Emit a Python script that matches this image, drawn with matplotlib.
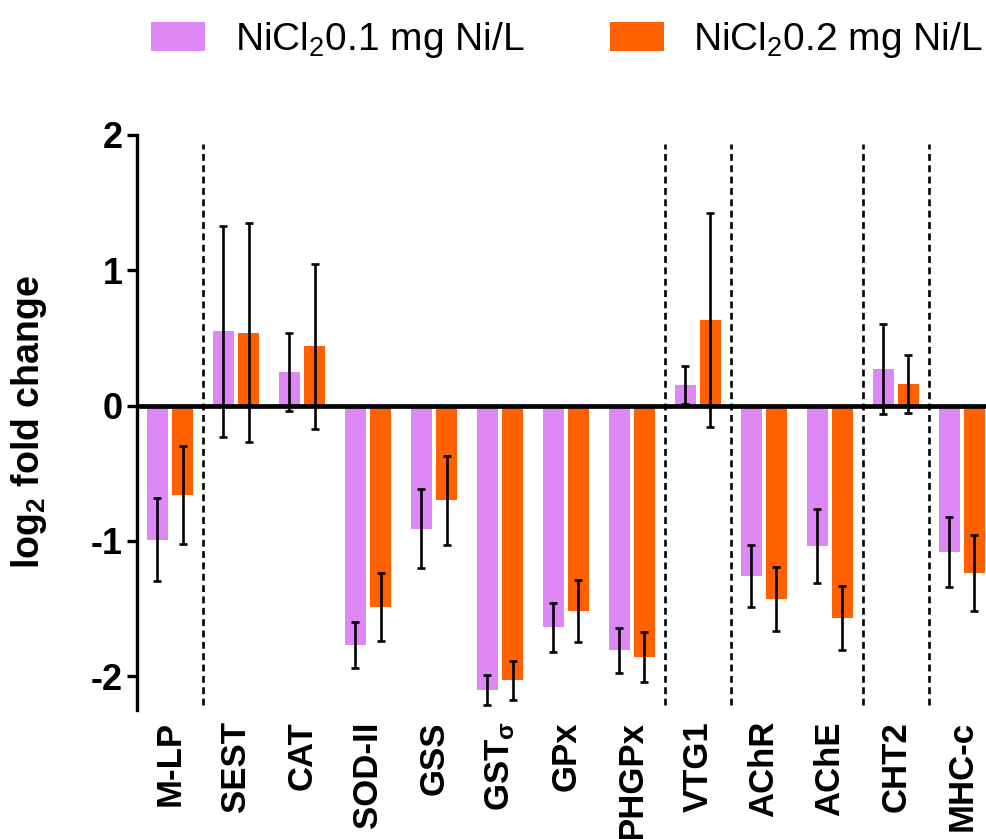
import numpy as np
import matplotlib
matplotlib.use("Agg")
import matplotlib.pyplot as plt

plt.rcParams['font.family'] = ['Liberation Sans', 'DejaVu Sans']
plt.rcParams['mathtext.fontset'] = 'custom'
plt.rcParams['mathtext.rm'] = 'Liberation Sans'
plt.rcParams['mathtext.it'] = 'Liberation Sans'
plt.rcParams['mathtext.bf'] = 'Liberation Sans:bold'

# data
genes = ["M-LP", "SEST", "CAT", "SOD-II", "GSS", r"GST$_{\mathbf{σ}}$", "GPx", "PHGPx",
         "VTG1", "AChR", "AChE", "CHT2", "MHC-c"]
low_dose = [-0.99, 0.55, 0.25, -1.77, -0.91, -2.10, -1.64, -1.81,
            0.15, -1.26, -1.04, 0.27, -1.08]
low_err = [0.31, 0.78, 0.29, 0.17, 0.29, 0.11, 0.18, 0.165,
           0.14, 0.23, 0.275, 0.33, 0.26]
high_dose = [-0.66, 0.54, 0.44, -1.49, -0.70, -2.03, -1.52, -1.86,
             0.63, -1.43, -1.57, 0.16, -1.24]
high_err = [0.36, 0.81, 0.61, 0.25, 0.33, 0.145, 0.23, 0.185,
            0.79, 0.24, 0.235, 0.215, 0.28]
group_breaks = [0.5, 7.5, 8.5, 10.5, 11.5]
series_names = [r"NiCl$_2$0.1 mg Ni/L", r"NiCl$_2$0.2 mg Ni/L"]

purple = "#dd88f5"
orange = "#ff6000"

fig = plt.figure(figsize=(9.87, 8.39), dpi=100)
ax = fig.add_axes([0.1388, 0.1538, 0.8612, 0.6853])

x = np.arange(len(genes))
w = 0.32
off = 0.19
err_kw = dict(ecolor="black", elinewidth=1.9, capsize=3.2, capthick=1.9)
b1 = ax.bar(x - off, low_dose, w, color=purple, yerr=low_err, error_kw=err_kw,
            label=series_names[0])
b2 = ax.bar(x + off, high_dose, w, color=orange, yerr=high_err, error_kw=err_kw,
            label=series_names[1])

ax.axhline(0, color="black", lw=3.4, zorder=3)
for b in group_breaks:
    ax.plot([b, b], [-2.21, 1.93], color="black", lw=1.9, ls=(0, (2.6, 1.7)), zorder=1)

ax.set_xlim(-0.5, 12.38)
ax.set_ylim(-2.25, 2)
ax.set_yticks([-2, -1, 0, 1, 2])
ax.set_yticklabels(["-2", "-1", "0", "1", "2"], fontsize=26, fontweight="bold")
ax.set_xticks(x)
ax.set_xticklabels(genes, rotation=90, fontsize=25, fontweight="bold")
ax.tick_params(axis="x", length=0, pad=8)
ax.tick_params(axis="y", length=7, width=2.4, pad=3)

for s in ["top", "right", "bottom"]:
    ax.spines[s].set_visible(False)
ax.spines["left"].set_linewidth(2.4)
ax.spines["left"].set_bounds(-2.25, 2)

ax.set_ylabel(r"log$_{\mathbf{2}}$ fold change", fontsize=27, fontweight="bold")
ax.yaxis.set_label_coords(-0.103, 0.5)

fig.legend(handles=[b1, b2], labels=series_names, loc="center left",
           bbox_to_anchor=(0.153, 0.952), ncol=2, frameon=False, fontsize=28,
           handlelength=1.4, handleheight=0.75, handletextpad=0.75,
           columnspacing=2.2, borderpad=0, borderaxespad=0)

fig.savefig("out.png", dpi=100)
